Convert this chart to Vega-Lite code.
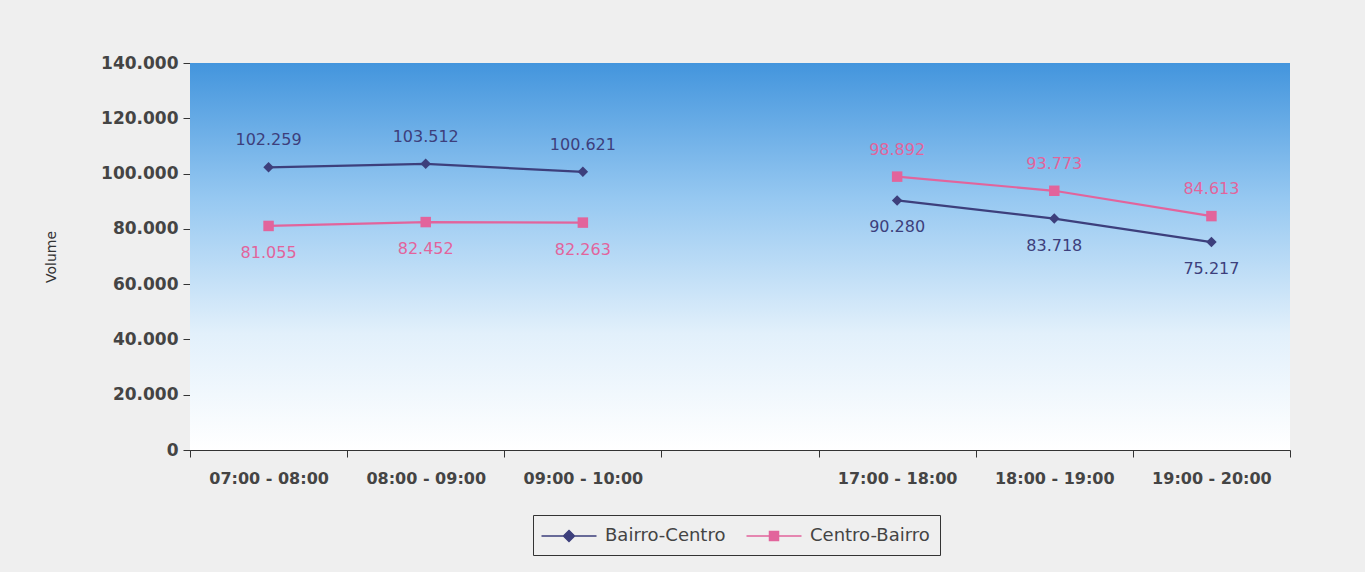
{
  "$schema": "https://vega.github.io/schema/vega-lite/v6.json",
  "autosize": {"type": "none"},
  "padding": {"left": 190, "top": 63, "right": 75, "bottom": 122},
  "width": 1100,
  "height": 387,
  "background": "#efefef",
  "config": {
    "locale": {"number": {"decimal": ",", "thousands": ".", "grouping": [3], "currency": ["R$", ""]}},
    "view": {"stroke": null},
    "font": "DejaVu Sans"
  },
  "datasets": {
    "vol": [
      {"hour": "07:00 - 08:00", "series": "Bairro-Centro", "period": "manha", "volume": 102259},
      {"hour": "08:00 - 09:00", "series": "Bairro-Centro", "period": "manha", "volume": 103512},
      {"hour": "09:00 - 10:00", "series": "Bairro-Centro", "period": "manha", "volume": 100621},
      {"hour": "17:00 - 18:00", "series": "Bairro-Centro", "period": "tarde", "volume": 90280},
      {"hour": "18:00 - 19:00", "series": "Bairro-Centro", "period": "tarde", "volume": 83718},
      {"hour": "19:00 - 20:00", "series": "Bairro-Centro", "period": "tarde", "volume": 75217},
      {"hour": "07:00 - 08:00", "series": "Centro-Bairro", "period": "manha", "volume": 81055},
      {"hour": "08:00 - 09:00", "series": "Centro-Bairro", "period": "manha", "volume": 82452},
      {"hour": "09:00 - 10:00", "series": "Centro-Bairro", "period": "manha", "volume": 82263},
      {"hour": "17:00 - 18:00", "series": "Centro-Bairro", "period": "tarde", "volume": 98892},
      {"hour": "18:00 - 19:00", "series": "Centro-Bairro", "period": "tarde", "volume": 93773},
      {"hour": "19:00 - 20:00", "series": "Centro-Bairro", "period": "tarde", "volume": 84613}
    ]
  },
  "layer": [
    {
      "data": {"values": [{}]},
      "mark": {
        "type": "rect",
        "color": {
          "gradient": "linear", "x1": 0, "y1": 0, "x2": 0, "y2": 1,
          "stops": [
            {"offset": 0, "color": "#4395dd"},
            {"offset": 0.35, "color": "#96c8f1"},
            {"offset": 0.7, "color": "#e2f0fb"},
            {"offset": 1, "color": "#ffffff"}
          ]
        }
      },
      "encoding": {
        "y": {"datum": 140000, "type": "quantitative"},
        "y2": {"datum": 0}
      }
    },
    {
      "data": {"name": "vol"},
      "mark": {"type": "line", "strokeWidth": 2.2},
      "encoding": {
        "x": {
          "field": "hour", "type": "nominal",
          "scale": {"type": "band", "paddingInner": 0, "paddingOuter": 0,
            "domain": ["07:00 - 08:00", "08:00 - 09:00", "09:00 - 10:00", "gap", "17:00 - 18:00", "18:00 - 19:00", "19:00 - 20:00"]},
          "axis": {
            "title": null, "labelAngle": 0, "tickBand": "extent",
            "labelExpr": "datum.value == 'gap' ? '' : datum.value",
            "labelFontWeight": "bold", "labelFontSize": 16, "labelColor": "#444444",
            "domainColor": "#333333", "tickColor": "#333333", "tickSize": 7, "labelPadding": 13
          }
        },
        "y": {
          "field": "volume", "type": "quantitative",
          "scale": {"domain": [0, 140000], "nice": false},
          "axis": {
            "title": "Volume", "titleFontWeight": "normal", "titleFontSize": 14, "titleColor": "#333333",
            "titlePadding": 42, "values": [0, 20000, 40000, 60000, 80000, 100000, 120000, 140000],
            "format": ",.0f", "grid": false, "labelFontWeight": "bold", "labelFontSize": 17,
            "labelColor": "#444444", "domainColor": "#333333", "tickColor": "#333333", "tickSize": 7, "labelPadding": 5
          }
        },
        "color": {
          "field": "series", "type": "nominal",
          "scale": {"domain": ["Bairro-Centro", "Centro-Bairro"], "range": ["#3d3f7c", "#e2649c"]},
          "legend": {
            "orient": "none", "legendX": 343, "legendY": 452,
            "direction": "horizontal", "title": null,
            "strokeColor": "#333333", "padding": 10, "labelFontSize": 18, "labelColor": "#444444",
            "symbolSize": 400, "symbolOffset": 15, "labelOffset": 25, "columnPadding": 17,
            "encode": {
              "symbols": {
                "update": {
                  "shape": {"signal": "datum.value == 'Bairro-Centro' ? 'M-2.75,0H2.75M0,-0.55L0.55,0L0,0.55L-0.55,0Z' : 'M-2.75,0H2.75M-0.45,-0.45H0.45V0.45H-0.45Z'"},
                  "stroke": {"scale": "color", "field": "value"},
                  "fill": {"scale": "color", "field": "value"},
                  "strokeWidth": {"value": 1.5},
                  "opacity": {"value": 1}
                }
              }
            }
          }
        },
        "detail": {"field": "period"}
      }
    },
    {
      "data": {"name": "vol"},
      "mark": {"type": "point", "filled": true, "opacity": 1, "size": 110},
      "encoding": {
        "x": {"field": "hour", "type": "nominal"},
        "y": {"field": "volume", "type": "quantitative"},
        "shape": {"field": "series", "type": "nominal", "scale": {"range": ["diamond", "square"]}, "legend": null},
        "color": {"field": "series", "type": "nominal"}
      }
    },
    {
      "data": {"name": "vol"},
      "transform": [{"filter": "(datum.series == 'Bairro-Centro' && datum.period == 'manha') || (datum.series == 'Centro-Bairro' && datum.period == 'tarde')"}],
      "mark": {"type": "text", "dy": -27, "fontSize": 16},
      "encoding": {
        "x": {"field": "hour", "type": "nominal"},
        "y": {"field": "volume", "type": "quantitative"},
        "text": {"field": "volume", "type": "quantitative", "format": ",.0f"},
        "color": {"field": "series", "type": "nominal"}
      }
    },
    {
      "data": {"name": "vol"},
      "transform": [{"filter": "(datum.series == 'Bairro-Centro' && datum.period == 'tarde') || (datum.series == 'Centro-Bairro' && datum.period == 'manha')"}],
      "mark": {"type": "text", "dy": 27, "fontSize": 16},
      "encoding": {
        "x": {"field": "hour", "type": "nominal"},
        "y": {"field": "volume", "type": "quantitative"},
        "text": {"field": "volume", "type": "quantitative", "format": ",.0f"},
        "color": {"field": "series", "type": "nominal"}
      }
    }
  ]
}
